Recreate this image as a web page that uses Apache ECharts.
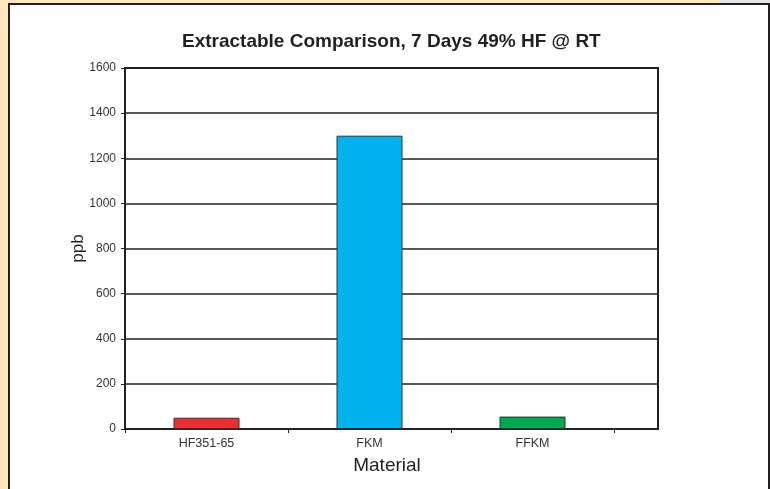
<!DOCTYPE html>
<html>
<head>
<meta charset="utf-8">
<script src="https://cdn.jsdelivr.net/npm/echarts@6/dist/echarts.min.js"></script>
<style>
  html, body { margin: 0; padding: 0; width: 770px; height: 489px; overflow: hidden; background: #FFE6BD; }
  #topright { position: absolute; left: 720px; top: 0; width: 50px; height: 3px; background: #e4e4e4; }
  #panel { position: absolute; left: 8px; top: 3px; width: 758px; height: 490px; background: #fff; border: 2px solid #231f20; border-bottom: none; }
  #chart { position: absolute; left: 0; top: 0; width: 770px; height: 489px; }
</style>
</head>
<body>
<div id="topright"></div>
<div id="panel"></div>
<div id="chart"></div>
<script>
const titleText = 'Extractable Comparison, 7 Days 49% HF @ RT';
const categories = ['HF351-65', 'FKM', 'FFKM'];
const values = [50, 1300, 55];
const barColors = ['#EE2D33', '#00B2EE', '#00A94F'];
const yMin = 0, yMax = 1600, yStep = 200;
const yName = 'ppb';
const xName = 'Material';

const chart = echarts.init(document.getElementById('chart'), null, { renderer: 'canvas' });
const font = 'Liberation Sans, Arial, Helvetica, sans-serif';
const ink = '#231f20';

chart.setOption({
  backgroundColor: 'transparent',
  animation: false,
  textStyle: { fontFamily: font },
  title: {
    text: titleText,
    left: 177, top: 27,
    textStyle: { fontFamily: font, fontSize: 19, fontWeight: 'bold', color: ink }
  },
  grid: [
    { left: 125, top: 68, width: 489, height: 361, containLabel: false },
    { left: 125, top: 68, width: 533, height: 361, containLabel: false, show: true, borderColor: ink, borderWidth: 2, backgroundColor: 'transparent' }
  ],
  xAxis: [
    {
      gridIndex: 0, type: 'category', data: categories, boundaryGap: true,
      axisLine: { show: false },
      axisTick: { show: true, length: 4, lineStyle: { color: ink, width: 1 } },
      axisLabel: { fontSize: 12.5, color: '#333', margin: 8, fontFamily: font },
      splitLine: { show: false }
    },
    {
      gridIndex: 1, type: 'value', min: 0, max: 1,
      axisLine: { show: true, lineStyle: { color: ink, width: 2 } },
      axisTick: { show: false }, axisLabel: { show: false }, splitLine: { show: false },
      name: xName, nameLocation: 'middle', nameGap: 27,
      nameTextStyle: { fontSize: 19, color: ink, fontFamily: font, padding: [0, 9, 0, 0] }
    }
  ],
  yAxis: [
    { gridIndex: 0, type: 'value', min: yMin, max: yMax, interval: yStep, show: false, splitLine: { show: false } },
    {
      gridIndex: 1, type: 'value', min: yMin, max: yMax, interval: yStep,
      axisLine: { show: true, lineStyle: { color: ink, width: 2 } },
      axisTick: { show: true, length: 4, lineStyle: { color: ink, width: 1 } },
      axisLabel: { fontSize: 12, color: '#333', margin: 9, fontFamily: font, formatter: v => String(v) },
      splitLine: { show: true, lineStyle: { color: ink, width: 1.5 } },
      name: yName, nameLocation: 'middle', nameGap: 38, nameMoveOverlap: false,
      nameTextStyle: { fontSize: 17, color: ink, fontFamily: font }
    }
  ],
  series: [{
    type: 'bar', xAxisIndex: 0, yAxisIndex: 0,
    barWidth: 66,
    data: values.map((v, i) => ({ value: v, itemStyle: { color: barColors[i] } })),
    itemStyle: { borderColor: '#333', borderWidth: 1 }
  }]
});
</script>
</body>
</html>
